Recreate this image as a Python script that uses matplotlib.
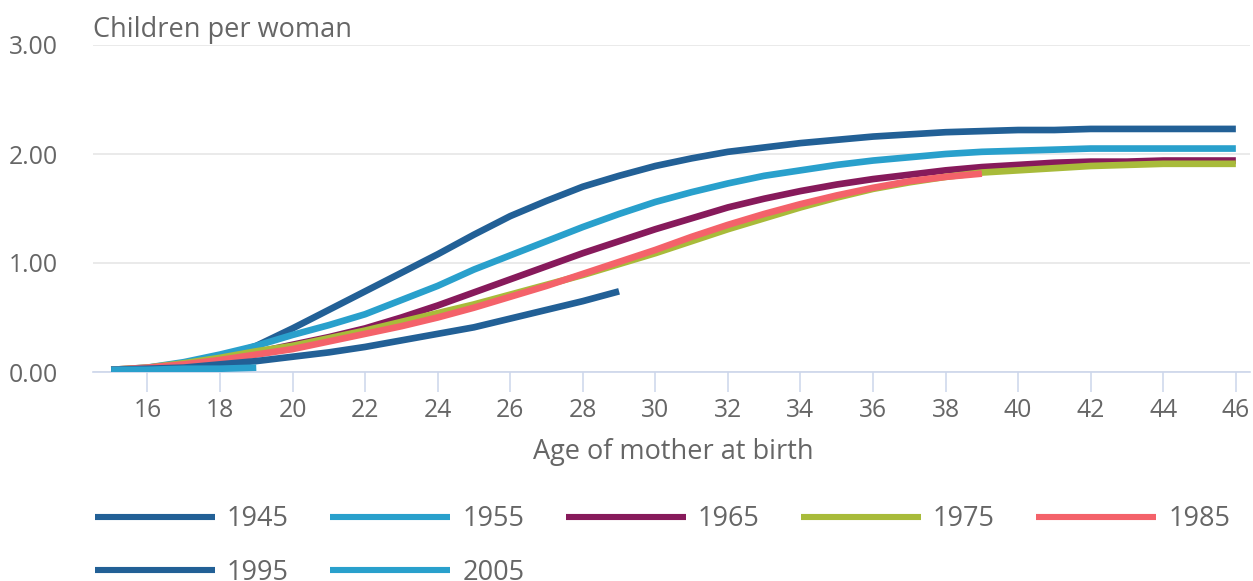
import matplotlib
matplotlib.use("Agg")
import matplotlib.pyplot as plt

plt.rcParams['font.family'] = ['Open Sans', 'DejaVu Sans']

ages_full = list(range(15, 47))

cohorts = ["1945", "1955", "1965", "1975", "1985", "1995", "2005"]

v1945 = [0.02, 0.03, 0.06, 0.13, 0.24, 0.40, 0.57, 0.74, 0.91, 1.08, 1.26, 1.43, 1.57, 1.70,
         1.80, 1.89, 1.96, 2.02, 2.06, 2.10, 2.13, 2.16, 2.18, 2.20, 2.21, 2.22, 2.22, 2.23,
         2.23, 2.23, 2.23, 2.23]
v1955 = [0.02, 0.04, 0.09, 0.16, 0.24, 0.34, 0.43, 0.53, 0.66, 0.79, 0.94, 1.07, 1.20, 1.33,
         1.45, 1.56, 1.65, 1.73, 1.80, 1.85, 1.90, 1.94, 1.97, 2.00, 2.02, 2.03, 2.04, 2.05,
         2.05, 2.05, 2.05, 2.05]
v1965 = [0.02, 0.03, 0.07, 0.12, 0.18, 0.25, 0.32, 0.40, 0.50, 0.61, 0.73, 0.85, 0.97, 1.09,
         1.20, 1.31, 1.41, 1.51, 1.59, 1.66, 1.72, 1.77, 1.81, 1.85, 1.88, 1.90, 1.92, 1.93,
         1.93, 1.94, 1.94, 1.94]
v1975 = [0.02, 0.04, 0.08, 0.13, 0.19, 0.24, 0.31, 0.38, 0.46, 0.54, 0.62, 0.71, 0.80, 0.89,
         0.99, 1.09, 1.20, 1.31, 1.41, 1.51, 1.60, 1.68, 1.74, 1.79, 1.83, 1.85, 1.87, 1.89,
         1.90, 1.91, 1.91, 1.91]
v1985 = [0.02, 0.04, 0.07, 0.11, 0.16, 0.21, 0.28, 0.35, 0.42, 0.50, 0.59, 0.69, 0.79, 0.90,
         1.01, 1.12, 1.24, 1.35, 1.45, 1.54, 1.62, 1.69, 1.75, 1.79, 1.82]
v1995 = [0.02, 0.03, 0.04, 0.07, 0.10, 0.14, 0.18, 0.23, 0.29, 0.35, 0.41, 0.49, 0.57, 0.65,
         0.74]
v2005 = [0.02, 0.02, 0.03, 0.03, 0.04]

series = [v1945, v1955, v1965, v1975, v1985, v1995, v2005]
colors = ["#226096", "#29a0cc", "#871a5b", "#a8bb3a", "#f4626a", "#226096", "#29a0cc"]

xticks = list(range(16, 47, 2))
yticks = [0, 1, 2, 3]
ytick_labels = ["0.00", "1.00", "2.00", "3.00"]

W, H = 1253, 581
fig = plt.figure(figsize=(W / 100, H / 100), dpi=100)
ax = fig.add_axes([93 / W, (H - 372) / H, (1250 - 93) / W, (372 - 45) / H])

TXT = "#666666"
FS_TICK = 17.8
FS = 19.5

handles = {}
for name, vals, c in zip(cohorts, series, colors):
    ln, = ax.plot(ages_full[:len(vals)], vals, color=c, lw=4.8, solid_capstyle='butt',
                  solid_joinstyle='round', label=name, zorder=3)
    handles[name] = ln

ax.set_xlim(14.5, 46.39)
ax.set_ylim(0, 3)
ax.set_xticks(xticks)
ax.set_xticklabels([str(t) for t in xticks])
ax.set_yticks(yticks)
ax.set_yticklabels(ytick_labels)

for s in ["top", "right", "left"]:
    ax.spines[s].set_visible(False)
ax.spines["bottom"].set_color("#ccd6eb")
ax.spines["bottom"].set_linewidth(1.2)
ax.spines["bottom"].set_zorder(2)

ax.grid(axis='y', color="#e6e6e6", lw=1.2)
ax.set_axisbelow(True)
ax.tick_params(axis='x', length=14.5, width=1.1, color="#ccd6eb", pad=4,
               labelsize=FS_TICK, labelcolor=TXT)
ax.tick_params(axis='y', length=0, pad=25, labelsize=FS_TICK, labelcolor=TXT)

fig.text(93 / W, (H - 37) / H, "Children per woman", fontsize=FS, color=TXT,
         ha='left', va='baseline')
fig.text(673 / W, (H - 459) / H, "Age of mother at birth", fontsize=FS, color=TXT,
         ha='center', va='baseline')

# legend is filled column by column; arrange so it reads row by row
order = ["1945", "1995", "1955", "2005", "1965", "1975", "1985"]
leg = fig.legend([handles[k] for k in order], order,
                 loc='upper left', bbox_to_anchor=(95 / W, (H - 505) / H), ncol=5,
                 frameon=False, fontsize=FS, handlelength=4.43, handletextpad=0.44,
                 columnspacing=1.53, labelspacing=0.95, borderpad=0, borderaxespad=0)
for t in leg.get_texts():
    t.set_color(TXT)
for h in leg.get_lines():
    h.set_linewidth(4.4)

fig.savefig("out.png", dpi=100)
